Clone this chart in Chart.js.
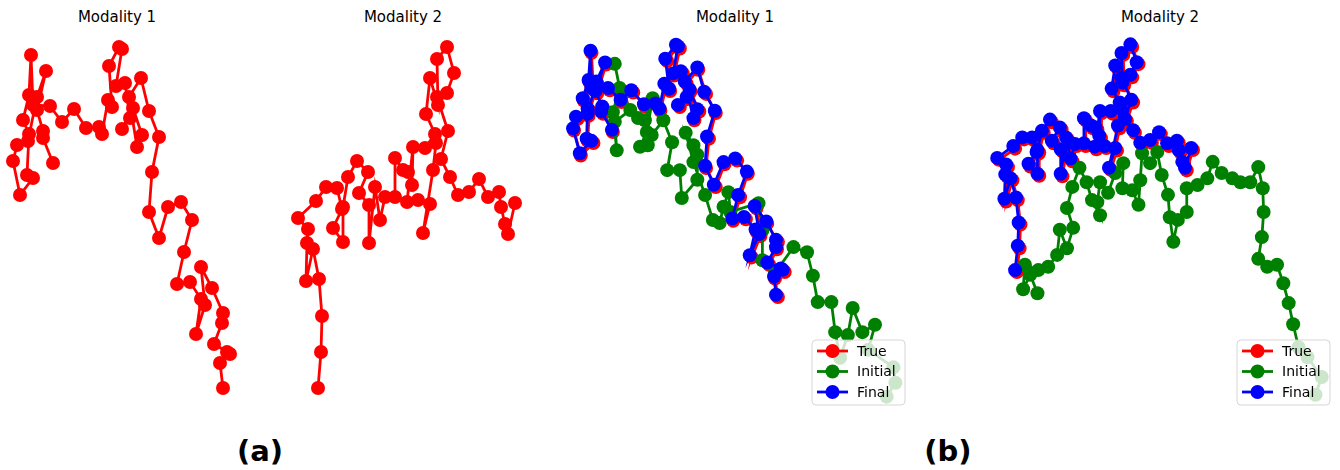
<!DOCTYPE html>
<html>
<head>
<meta charset="utf-8">
<script src="https://cdn.jsdelivr.net/npm/chart.js@4.4.0/dist/chart.umd.min.js"></script>
<style>
  body { margin: 0; background: #fff; font-family: "DejaVu Sans", sans-serif; }
  #wrap { position: relative; width: 1340px; height: 470px; }
  canvas { position: absolute; }
  .ttl { position: absolute; top: 8px; font-size: 15px; transform: translateX(-50%); white-space: nowrap; }
  .lab { position: absolute; top: 434px; font-size: 29px; font-weight: bold; transform: translateX(-50%); }
</style>
</head>
<body>
<div id="wrap">
  <canvas id="c1" width="260" height="380" style="left:0px;top:30px"></canvas>
  <canvas id="c2" width="260" height="380" style="left:280px;top:30px"></canvas>
  <canvas id="c3" width="360" height="380" style="left:555px;top:30px"></canvas>
  <canvas id="c4" width="355" height="380" style="left:985px;top:30px"></canvas>
  <div class="ttl" style="left:117px">Modality 1</div>
  <div class="ttl" style="left:403px">Modality 2</div>
  <div class="ttl" style="left:735px">Modality 1</div>
  <div class="ttl" style="left:1160px">Modality 2</div>
  <div class="lab" style="left:260px">(a)</div>
  <div class="lab" style="left:948px">(b)</div>
</div>
<script>
// trajectories, [x, y] in data units (y grows downward)
const m1True = [[53,163],[43,138],[43,131],[37,110],[46,71],[37,97],[28,141],[17,145],[13,161],[20,195],
  [33,178],[27,175],[29,134],[23,120],[29,95],[31,55],[33,105],[50,106],[62,122],[74,109],
  [86,128],[99,127],[102,134],[108,100],[112,107],[109,66],[119,47],[122,49],[116,86],[125,83],
  [130,118],[122,129],[133,108],[142,135],[137,147],[129,97],[141,78],[149,111],[159,137],[152,172],
  [149,212],[159,238],[168,207],[181,202],[192,220],[184,252],[177,284],[190,282],[201,299],[196,334],
  [205,305],[201,267],[212,288],[223,313],[222,323],[214,344],[227,352],[230,354],[220,363],[223,388]];
const m1Final = [[52,160],[41,135],[42,128],[35,107],[45,68],[36,94],[27,138],[15,142],[12,158],[19,192],
  [31,175],[26,172],[27,131],[22,117],[28,92],[30,52],[31,102],[48,103],[61,119],[72,106],
  [85,125],[97,124],[101,131],[106,97],[111,104],[107,63],[118,44],[120,46],[115,83],[123,80],
  [129,115],[120,126],[132,105],[140,132],[136,144],[127,94],[140,75],[147,108],[158,134],[150,169],
  [148,209],[157,235],[167,204],[179,199],[191,217],[182,249],[176,281],[188,279],[200,296],[194,331],
  [204,302],[199,264],[211,285],[221,310],[221,320],[212,341],[226,349],[228,351],[219,360],[221,385]];
const m1Initial = [[55,70],[60,103],[53,136],[57,188],[55,149],[71,133],[62,113],[79,144],[86,147],[94,117],
  [88,163],[81,183],[89,181],[93,167],[105,147],[114,177],[109,215],[122,215],[124,253],[140,228],
  [140,194],[136,181],[128,164],[136,204],[148,249],[156,283],[163,287],[167,265],[172,245],[174,272],
  [203,260],[207,297],[207,338],[220,355],[239,320],[253,327],[259,359],[264,395],[278,395],[282,436],
  [287,471],[295,440],[300,403],[310,436],[323,426],[316,460],[342,484],[344,505],[335,524]];

const m2True = [[318,388],[321,352],[322,316],[319,279],[313,249],[306,281],[307,243],[308,229],[298,218],[316,201],
  [326,187],[337,188],[342,209],[333,228],[343,242],[343,207],[348,177],[357,161],[368,172],[359,193],
  [369,205],[369,243],[375,187],[380,220],[385,197],[395,197],[395,158],[403,170],[408,172],[412,185],
  [413,147],[407,202],[418,200],[430,204],[423,233],[433,170],[436,143],[425,148],[435,134],[426,114],
  [430,78],[438,105],[437,59],[447,47],[454,73],[447,93],[437,97],[448,131],[441,159],[450,177],
  [458,195],[469,192],[479,179],[488,197],[499,192],[501,207],[505,224],[508,234],[515,203]];
const m2Final = [[316,385],[319,348],[320,313],[317,275],[311,246],[304,277],[305,240],[306,225],[296,215],[314,197],
  [324,184],[335,184],[340,206],[331,224],[341,239],[341,203],[346,174],[355,157],[366,169],[357,189],
  [367,202],[367,239],[373,184],[378,216],[383,194],[393,193],[393,155],[401,166],[406,169],[410,181],
  [411,144],[405,198],[416,197],[428,200],[421,230],[431,166],[434,140],[423,144],[433,131],[424,110],
  [428,75],[436,101],[435,56],[445,43],[452,70],[445,89],[435,94],[446,127],[439,156],[448,173],
  [456,192],[467,188],[477,176],[486,193],[497,189],[499,203],[503,221],[506,230],[513,200]];
const m2Initial = [[341,420],[333,392],[325,414],[327,377],[342,385],[353,380],[363,362],[366,324],[374,352],[381,321],
  [374,291],[380,259],[388,230],[396,252],[402,279],[411,302],[408,282],[411,252],[420,268],[428,238],
  [437,223],[436,261],[447,264],[454,286],[456,249],[458,208],[467,223],[475,206],[480,241],[487,271],
  [489,305],[493,342],[498,309],[508,297],[508,261],[520,256],[531,246],[537,221],[547,238],[559,246],
  [568,252],[579,252],[588,229],[593,261],[594,297],[592,335],[588,368],[598,380],[609,377],[616,405],
  [622,435],[627,467],[633,502],[643,517],[659,547],[652,574]];

const seriesNames = ['True', 'Initial', 'Final'];
const seriesColors = ['#ff0000', '#008000', '#0000ff'];

function toPts(arr) {
  return arr.map(p => ({ x: p[0], y: p[1] }));
}

function makeSet(name, arr) {
  const i = seriesNames.indexOf(name);
  return {
    label: name,
    data: toPts(arr),
    showLine: true,
    borderColor: seriesColors[i],
    backgroundColor: seriesColors[i],
    borderWidth: 2.8,
    pointRadius: 7,
    pointHoverRadius: 7,
    pointBorderWidth: 0,
    tension: 0,
    clip: false,
    order: 3 - i
  };
}

// matplotlib-like legend box, drawn on top of the lines
const boxLegend = {
  id: 'boxLegend',
  afterDatasetsDraw(chart, args, opts) {
    if (!opts.show) return;
    const ctx = chart.ctx;
    const w = 93, h = 65;
    const x0 = chart.width - opts.right - w;
    const y0 = chart.height - opts.bottom - h;
    ctx.save();
    ctx.beginPath();
    ctx.roundRect(x0, y0, w, h, 4);
    ctx.fillStyle = 'rgba(255,255,255,0.8)';
    ctx.fill();
    ctx.strokeStyle = 'rgba(204,204,204,0.8)';
    ctx.lineWidth = 1;
    ctx.stroke();
    ctx.font = '14px "DejaVu Sans"';
    ctx.textBaseline = 'middle';
    seriesNames.forEach((name, i) => {
      const yy = y0 + 11 + i * 20.5;
      ctx.strokeStyle = seriesColors[i];
      ctx.fillStyle = seriesColors[i];
      ctx.lineWidth = 2.8;
      ctx.beginPath();
      ctx.moveTo(x0 + 5, yy);
      ctx.lineTo(x0 + 36, yy);
      ctx.stroke();
      ctx.beginPath();
      ctx.arc(x0 + 20.5, yy, 7, 0, Math.PI * 2);
      ctx.fill();
      ctx.fillStyle = '#000';
      ctx.fillText(name, x0 + 45, yy + 1);
    });
    ctx.restore();
  }
};

function panel(id, sets, xr, yr, legend) {
  new Chart(document.getElementById(id), {
    type: 'scatter',
    data: { datasets: sets },
    options: {
      responsive: false,
      animation: false,
      events: [],
      layout: { padding: 0, autoPadding: false },
      scales: {
        x: { type: 'linear', display: false, min: xr[0], max: xr[1] },
        y: { type: 'linear', display: false, reverse: true, min: yr[0], max: yr[1] }
      },
      plugins: {
        legend: { display: false },
        tooltip: { enabled: false },
        boxLegend: { show: legend, right: 10, bottom: 5 }
      }
    },
    plugins: [boxLegend]
  });
}

panel('c1', [makeSet('True', m1True)], [0, 260], [30, 410], false);
panel('c2', [makeSet('True', m2True)], [280, 540], [30, 410], false);
panel('c3', [makeSet('True', m1True), makeSet('Initial', m1Initial), makeSet('Final', m1Final)],
  [-6.57, 364.18], [23.81, 542.2], true);
panel('c4', [makeSet('True', m2True), makeSet('Initial', m2Initial), makeSet('Final', m2Final)],
  [282.34, 679.4], [21.24, 597], true);
</script>
</body>
</html>
